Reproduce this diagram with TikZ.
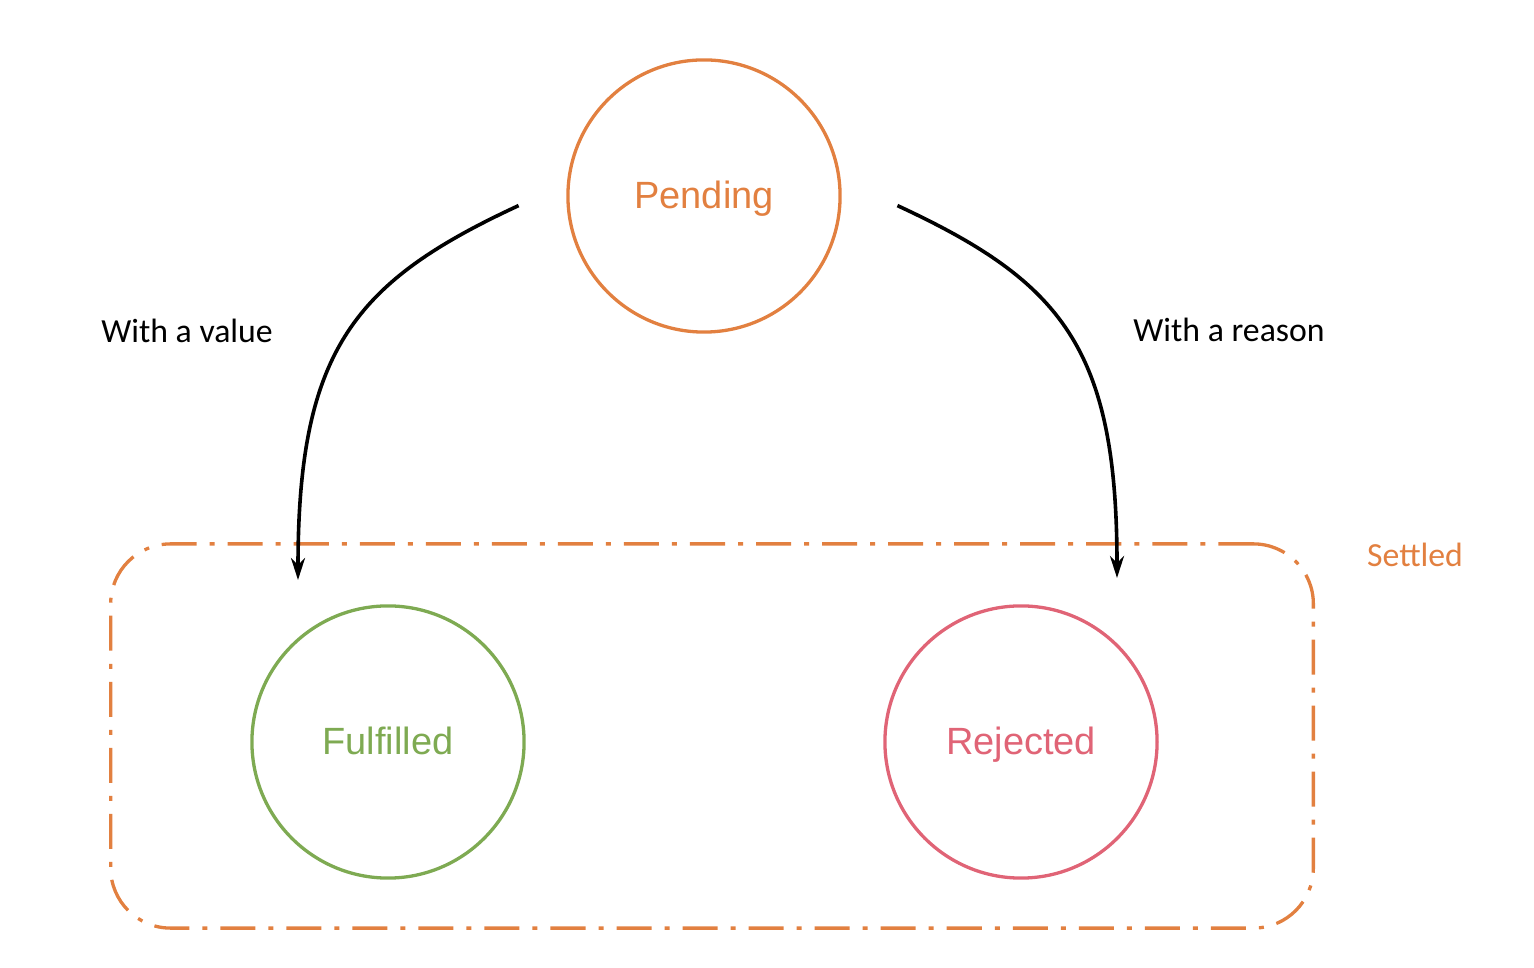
\documentclass[tikz,border=0pt]{standalone}
\usepackage{fontspec}
\setmainfont{Carlito}
\newfontfamily\statefont{Liberation Sans}
\usetikzlibrary{arrows.meta}

\definecolor{pendingorange}{RGB}{226,128,64}
\definecolor{okgreen}{RGB}{126,170,82}
\definecolor{failred}{RGB}{224,100,118}

\tikzset{
  state/.style={circle, line width=0.033cm, minimum size=2.72cm, inner sep=0pt,
    text height=0.9em, text depth=0.18em,
    font=\statefont\fontsize{10.8}{13}\selectfont},
  flow/.style={line width=0.036cm, -{Stealth[length=0.22cm,width=0.14cm]}},
  note/.style={font=\fontsize{9.6}{12}\selectfont},
  settledbox/.style={draw=pendingorange, line width=0.033cm, rounded corners=0.6cm,
    dash pattern=on 0.35cm off 0.13cm on 0.05cm off 0.13cm,
    minimum width=12.02cm, minimum height=3.84cm, inner sep=0pt}
}

\begin{document}
\begin{tikzpicture}[x=0.01cm,y=-0.01cm]
  \useasboundingbox (0,0) rectangle (1534,968);

  \node[settledbox] (settled) at (712,736) {};
  \node[note, text=pendingorange] (settledlabel) at (1415,555) {Settled};

  \node[state, draw=pendingorange, text=pendingorange] (pending) at (704,196) {Pending};
  \node[state, draw=okgreen, text=okgreen] (fulfilled) at (388,742) {Fulfilled};
  \node[state, draw=failred, text=failred] (rejected) at (1021,742) {Rejected};

  \draw[flow] ([xshift=-0.48cm]pending.184) .. controls +(-164,76) and +(0,-230) .. ([shift={(-90,-162)}]fulfilled.center);
  \draw[flow] ([xshift=0.56cm]pending.356) .. controls +(164,76) and +(0,-230) .. ([shift={(96,-164)}]rejected.center);

  \node[note] (valuelabel) at (187,331) {With a value};
  \node[note] (reasonlabel) at (1229,330) {With a reason};
\end{tikzpicture}
\end{document}
